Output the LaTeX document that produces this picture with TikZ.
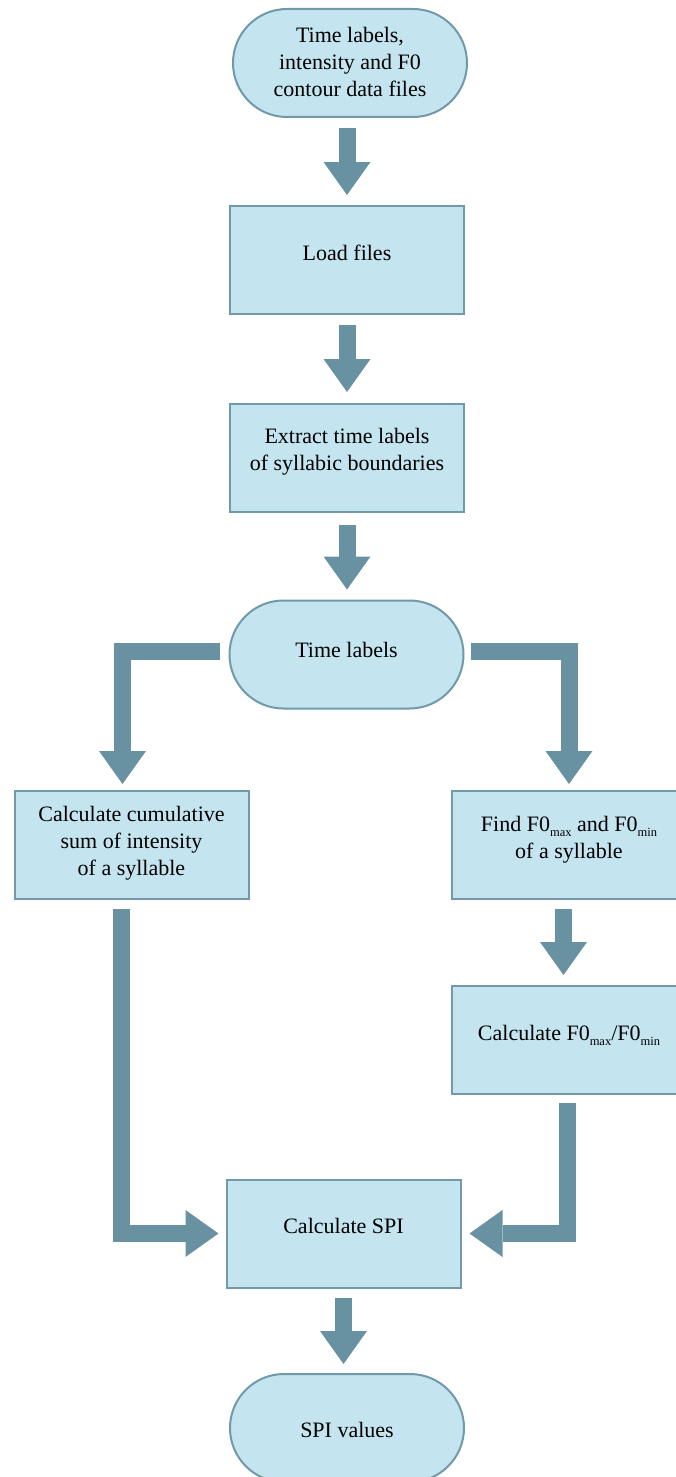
\documentclass[tikz,border=0pt]{standalone}
\usepackage{fontspec}
\setmainfont{Liberation Serif}
\usetikzlibrary{arrows.meta}
\definecolor{boxfill}{HTML}{C4E4F0}
\definecolor{boxline}{HTML}{7199A9}
\definecolor{arrowc}{HTML}{6892A2}
\newcommand{\sbs}[1]{\raisebox{-5pt}{\fontsize{12.5pt}{12.5pt}\selectfont #1}}
\begin{document}
\begin{tikzpicture}[x=1pt,y=-1pt,
  stepbox/.style={draw=boxline, fill=boxfill, line width=2pt, minimum width=234pt, minimum height=108pt, inner sep=0pt},
  termbox/.style={stepbox, rounded corners=54pt},
  txt/.style={align=center, font=\fontsize{22pt}{27pt}\selectfont, inner sep=0pt, text=black},
  flow/.style={draw=arrowc, line width=17pt, line join=miter, -{Triangle[width=47pt,length=33pt,line width=0pt]}}]
\useasboundingbox (0,0) rectangle (676,1477);

% shapes
\node[termbox] (src) at (350,63) {};
\node[stepbox] (load) at (347,259.5) {};
\node[stepbox] (extract) at (347,458) {};
\node[termbox] (tl) at (346.5,654.5) {};
\node[stepbox] (cum) at (131.5,845) {};
\node[stepbox] (f0) at (569,845) {};
\node[stepbox] (ratio) at (569,1039.5) {};
\node[stepbox] (spi) at (343.5,1233.5) {};
\node[termbox] (out) at (347,1428) {};

% texts
\node[txt] (srcT) at (350,62) {Time labels,\\intensity and F0\\contour data files};
\node[txt] (loadT) at (347,253) {Load files};
\node[txt] (extractT) at (347,452) {Extract time labels\\of syllabic boundaries};
\node[txt] (tlT) at (346.5,650) {Time labels};
\node[txt] (cumT) at (131.5,843) {Calculate cumulative\\sum of intensity\\ of a syllable};
\node[txt] (f0T) at (569,840) {Find F0\sbs{max} and F0\sbs{min}\\of a syllable};
\node[txt] (ratioT) at (569,1035) {Calculate F0\sbs{max}/F0\sbs{min}};
\node[txt] (spiT) at (343.5,1226) {Calculate SPI};
\node[txt] (outT) at (347,1430) {SPI values};

% connectors
\draw[flow, shorten <=10pt] (src.south -| load.north) -- ([yshift=9.5pt]load.north);
\draw[flow, shorten <=10.5pt] (load.south) -- ([yshift=11pt]extract.north);
\draw[flow, shorten <=12pt] (extract.south) -- ([yshift=10pt]tl.north -| extract.south);
\draw[flow, shorten <=9pt] ([yshift=3pt]tl.west) -| ([xshift=-9pt,yshift=6pt]cum.north);
\draw[flow, shorten <=6pt] ([yshift=3pt]tl.east) -| ([yshift=6pt]f0.north);
\draw[flow, shorten <=9pt] ([xshift=-5.5pt]f0.south) -- ([xshift=-5.5pt,yshift=9.5pt]ratio.north);
\draw[flow, shorten <=9pt] ([xshift=-10pt]cum.south) |- ([xshift=-7pt]spi.west);
\draw[flow, shorten <=8.5pt] ([xshift=-2pt]ratio.south) |- ([xshift=8pt]spi.east);
\draw[flow, shorten <=9.5pt] (spi.south) -- ([yshift=9pt]out.north -| spi.south);
\end{tikzpicture}
\end{document}
